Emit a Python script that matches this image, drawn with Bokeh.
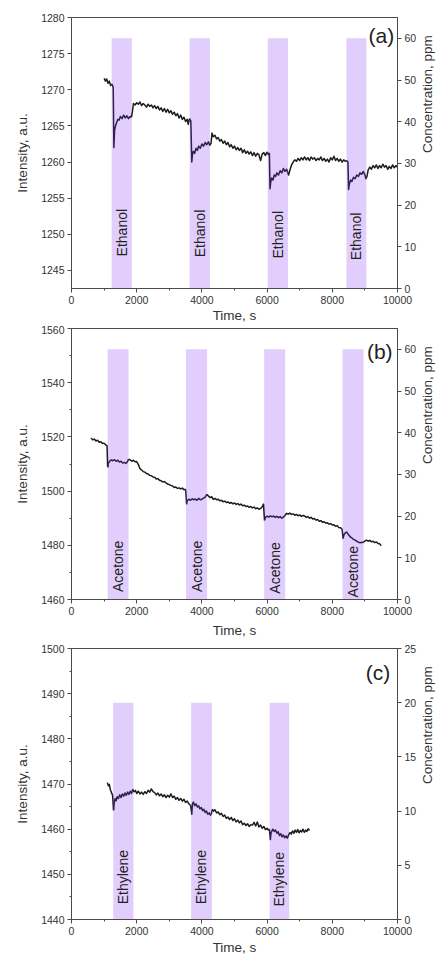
import math
from bokeh.plotting import figure
from bokeh.models import Range1d, LinearAxis, SingleIntervalTicker
from bokeh.layouts import column
from bokeh.embed import file_html
from bokeh.resources import INLINE
from bokeh.core.properties import value

# ---------------- data ----------------
# Panel (a): ethanol
time_a = [1000, 1040, 1080, 1120, 1160, 1200, 1240, 1280,
          1300, 1320, 1350, 1380, 1420, 1460, 1500, 1550, 1600, 1650, 1700, 1750, 1800, 1840,
          1870, 1900, 1950, 2000, 2050, 2100, 2150, 2200, 2250, 2300, 2350, 2400, 2450, 2500, 2550, 2600, 2650, 2700, 2750, 2800,
          2850, 2900, 2950, 3000, 3050, 3100, 3150, 3200, 3250, 3300, 3350, 3400, 3450, 3500, 3550, 3580, 3620, 3660,
          3690, 3710, 3740, 3780, 3820, 3860, 3900, 3950, 4000, 4050, 4100, 4150, 4200, 4240,
          4280, 4310, 4350, 4400, 4450, 4500, 4550, 4600, 4650, 4700, 4750, 4800, 4850, 4900, 4950, 5000, 5050, 5100, 5150, 5200,
          5250, 5300, 5350, 5400, 5450, 5500, 5550, 5600, 5650, 5700, 5750, 5800, 5850, 5900, 5950, 6000, 6040, 6070,
          6090, 6110, 6140, 6180, 6220, 6260, 6300, 6350, 6400, 6450, 6500, 6550, 6600, 6630,
          6660, 6700, 6750, 6800, 6850, 6900, 6950, 7000, 7050, 7100, 7150, 7200, 7250, 7300, 7350, 7400, 7450, 7500, 7550, 7600,
          7650, 7700, 7750, 7800, 7850, 7900, 7950, 8000, 8050, 8100, 8150, 8200, 8250, 8300, 8350, 8400, 8450, 8480,
          8500, 8520, 8560, 8600, 8650, 8700, 8750, 8800, 8850, 8900, 8950, 9000, 9030,
          9060, 9100, 9150, 9200, 9250, 9300, 9350, 9400, 9450, 9500, 9550, 9600, 9650, 9700, 9750, 9800, 9850, 9900, 9950, 10000]
intensity_a = [1271.6, 1271.2, 1271.5, 1270.9, 1271.2, 1270.6, 1270.8, 1270.3,
               1262.0, 1264.3, 1265.0, 1265.4, 1265.9, 1265.8, 1266.3, 1266.0, 1266.5, 1266.1, 1266.4, 1266.0, 1266.3, 1266.2,
               1267.0, 1268.1, 1267.9, 1268.2, 1268.0, 1268.3, 1267.8, 1268.1, 1267.9, 1267.6, 1268.0, 1267.7, 1267.9, 1267.5, 1267.8, 1267.4, 1267.7, 1267.2, 1267.5, 1267.0,
               1267.4, 1266.9, 1267.3, 1266.8, 1267.1, 1266.6, 1266.9, 1266.4, 1266.7, 1266.1, 1266.5, 1265.9, 1266.2, 1265.6, 1265.9, 1265.2, 1266.0, 1265.7,
               1260.0, 1261.0, 1261.5, 1261.2, 1261.9, 1261.6, 1262.2, 1261.9, 1262.5, 1262.2, 1262.7, 1262.4, 1262.8, 1262.3,
               1262.6, 1264.0, 1263.5, 1263.7, 1263.2, 1263.4, 1262.9, 1263.1, 1262.6, 1262.9, 1262.4, 1262.7, 1262.1, 1262.4, 1261.9, 1262.2, 1261.7, 1262.0, 1261.6, 1261.9,
               1261.3, 1261.7, 1261.2, 1261.5, 1261.1, 1261.4, 1260.9, 1261.3, 1260.8, 1261.2, 1261.0, 1260.2, 1261.1, 1261.3, 1260.9, 1261.4, 1261.0, 1261.2,
               1256.3, 1257.2, 1257.8, 1257.5, 1258.2, 1258.0, 1258.5, 1258.2, 1258.8, 1258.5, 1259.1, 1258.7, 1259.0, 1258.6,
               1258.2, 1258.9, 1259.6, 1260.0, 1260.3, 1260.1, 1260.5, 1260.2, 1260.6, 1260.3, 1260.7, 1260.3, 1260.6, 1260.2, 1260.7, 1260.4, 1260.6, 1260.2, 1260.5, 1260.3,
               1260.7, 1260.2, 1260.5, 1260.1, 1260.4, 1260.0, 1260.6, 1260.3, 1260.8, 1260.2, 1260.5, 1260.1, 1260.4, 1260.0, 1260.3, 1260.1, 1260.2, 1260.0,
               1256.2, 1256.9, 1257.5, 1257.3, 1257.9, 1257.7, 1258.2, 1258.0, 1258.5, 1258.3, 1258.7, 1258.2, 1257.7,
               1257.9, 1258.9, 1259.3, 1259.0, 1259.5, 1259.2, 1259.6, 1259.1, 1259.5, 1259.2, 1259.7, 1259.3, 1259.5, 1259.0, 1259.4, 1259.1, 1259.6, 1259.2, 1259.5, 1259.3]
expo_start_a = [1230, 3625, 6020, 8435]
expo_end_a = [1850, 4245, 6640, 9045]
expo_conc_a = [60, 60, 60, 60]
gas_a = ["Ethanol", "Ethanol", "Ethanol", "Ethanol"]

# Panel (b): acetone
time_b = [600, 650, 700, 750, 800, 850, 900, 950, 1000, 1050, 1090,
          1110, 1130, 1170, 1220, 1270, 1320, 1370, 1420, 1470, 1520, 1570, 1620, 1670, 1720, 1750,
          1800, 1850, 1900, 1950, 2000, 2050, 2100, 2150, 2200, 2250, 2300, 2350, 2400, 2450, 2500, 2550, 2600, 2650,
          2700, 2750, 2800, 2850, 2900, 2950, 3000, 3050, 3100, 3150, 3200, 3250, 3300, 3350, 3400, 3450, 3500,
          3530, 3550, 3600, 3650, 3700, 3750, 3800, 3850, 3900, 3950, 4000, 4050, 4100, 4150,
          4200, 4250, 4300, 4350, 4400, 4450, 4500, 4550, 4600, 4650, 4700, 4750, 4800, 4850, 4900, 4950, 5000, 5050,
          5100, 5150, 5200, 5250, 5300, 5350, 5400, 5450, 5500, 5550, 5600, 5650, 5700, 5750, 5800, 5850, 5890,
          5920, 5950, 6000, 6050, 6100, 6150, 6200, 6250, 6300, 6350, 6400, 6450, 6500, 6550,
          6600, 6650, 6700, 6750, 6800, 6850, 6900, 6950, 7000, 7050, 7100, 7150, 7200, 7250, 7300, 7350, 7400, 7450,
          7500, 7550, 7600, 7650, 7700, 7750, 7800, 7850, 7900, 7950, 8000, 8050, 8100, 8150, 8200, 8250, 8300,
          8330, 8360, 8400, 8440, 8480, 8520, 8560, 8600, 8650, 8700, 8750, 8800, 8850, 8900, 8950,
          9000, 9050, 9100, 9150, 9200, 9250, 9300, 9350, 9400, 9450, 9500]
intensity_b = [1519.6, 1518.9, 1519.2, 1518.5, 1518.8, 1518.0, 1518.2, 1517.6, 1517.7, 1517.0, 1516.8,
               1508.8, 1510.2, 1511.0, 1511.5, 1511.2, 1511.6, 1511.0, 1511.4, 1510.7, 1511.0, 1510.4, 1510.6, 1510.2, 1510.9, 1511.8,
               1511.5, 1511.0, 1511.4, 1510.8, 1510.9, 1509.8, 1508.3, 1507.8, 1507.2, 1507.0, 1506.5, 1506.3, 1505.8, 1505.7, 1505.2, 1505.1, 1504.5, 1504.6,
               1504.0, 1503.8, 1503.4, 1503.5, 1503.0, 1502.6, 1502.4, 1502.1, 1501.9, 1501.3, 1501.5, 1501.0, 1501.2, 1500.8, 1501.1, 1500.5, 1500.7,
               1495.3, 1496.5, 1497.0, 1496.6, 1497.2, 1496.8, 1497.1, 1496.6, 1497.3, 1496.8, 1497.0, 1497.4, 1497.8, 1498.8,
               1498.2, 1497.6, 1497.9, 1497.0, 1497.3, 1496.8, 1497.0, 1496.4, 1496.6, 1496.1, 1496.3, 1495.8, 1496.0, 1495.5, 1495.8, 1495.3, 1495.6, 1495.1,
               1495.4, 1494.9, 1495.2, 1494.6, 1494.8, 1494.3, 1494.5, 1494.0, 1494.3, 1493.8, 1494.1, 1493.5, 1493.8, 1493.3, 1493.6, 1494.2, 1495.2,
               1489.2, 1490.3, 1490.8, 1490.4, 1490.9, 1490.5, 1490.8, 1490.3, 1490.7, 1490.2, 1490.6, 1490.0, 1490.4, 1491.0,
               1491.8, 1491.5, 1491.9, 1491.4, 1491.6, 1491.1, 1491.4, 1490.9, 1491.2, 1490.7, 1491.0, 1490.8, 1490.3, 1490.6, 1490.0, 1490.3, 1489.7, 1489.9,
               1489.3, 1489.5, 1488.9, 1489.1, 1488.5, 1488.7, 1488.2, 1488.3, 1487.8, 1488.0, 1487.5, 1487.6, 1487.0, 1487.2, 1486.6, 1486.5, 1486.0,
               1482.6, 1484.0, 1484.6, 1484.9, 1484.2, 1483.6, 1483.0, 1482.7, 1482.2, 1481.9, 1481.5, 1481.2, 1480.9, 1481.1, 1481.0,
               1481.6, 1481.9, 1481.5, 1481.8, 1481.3, 1481.5, 1481.0, 1481.2, 1480.7, 1480.6, 1479.8]
expo_start_b = [1110, 3515, 5910, 8315]
expo_end_b = [1750, 4160, 6555, 8960]
expo_conc_b = [60, 60, 60, 60]
gas_b = ["Acetone", "Acetone", "Acetone", "Acetone"]

# Panel (c): ethylene
time_c = [1100, 1130, 1160, 1190, 1220, 1260,
          1290, 1310, 1340, 1370, 1400, 1440, 1480, 1520, 1560, 1600, 1640, 1680, 1720, 1760, 1800, 1840, 1880,
          1920, 1960, 2000, 2050, 2100, 2150, 2200, 2250, 2300, 2350, 2400, 2450, 2500, 2550, 2600, 2650, 2700, 2750,
          2800, 2850, 2900, 2950, 3000, 3050, 3100, 3150, 3200, 3250, 3300, 3350, 3400, 3450, 3500, 3550, 3600, 3650,
          3690, 3710, 3740, 3780, 3820, 3860, 3900, 3940, 3980, 4020, 4060, 4100, 4140, 4180, 4220, 4260, 4290,
          4320, 4360, 4400, 4450, 4500, 4550, 4600, 4650, 4700, 4750, 4800, 4850, 4900, 4950, 5000, 5050, 5100, 5150,
          5200, 5250, 5300, 5350, 5400, 5450, 5500, 5550, 5600, 5650, 5700, 5750, 5800, 5850, 5900, 5950, 6000, 6040, 6070,
          6100, 6120, 6150, 6180, 6220, 6260, 6300, 6340, 6380, 6420, 6460, 6500, 6540, 6580, 6620, 6660,
          6700, 6740, 6780, 6820, 6860, 6900, 6940, 6980, 7020, 7060, 7100, 7140, 7180, 7220, 7260, 7300]
intensity_c = [1470.3, 1469.6, 1469.9, 1468.8, 1468.2, 1467.5,
               1464.2, 1465.8, 1466.8, 1466.3, 1467.2, 1466.8, 1467.6, 1467.0, 1467.8, 1467.3, 1468.0, 1467.5, 1468.2, 1467.7, 1468.4, 1467.9, 1468.8,
               1468.2, 1468.6, 1467.9, 1468.4, 1467.8, 1468.2, 1467.7, 1468.3, 1467.9, 1468.6, 1468.2, 1468.9, 1468.3, 1468.1, 1467.6, 1468.0, 1467.4, 1467.8,
               1467.2, 1467.6, 1467.0, 1467.5, 1467.1, 1467.8, 1467.0, 1467.3, 1466.6, 1467.0, 1466.4, 1466.8, 1466.2, 1466.6, 1465.9, 1466.2, 1465.6, 1465.3,
               1463.3, 1465.6, 1466.0, 1465.2, 1465.6, 1464.9, 1465.2, 1464.5, 1464.8, 1464.1, 1464.4, 1463.7, 1464.0, 1463.3, 1463.6, 1463.1, 1463.4,
               1464.4, 1464.0, 1464.3, 1463.6, 1463.8, 1463.2, 1463.5, 1462.8, 1463.1, 1462.4, 1462.7, 1462.1, 1462.6, 1461.9, 1462.3, 1461.6, 1462.0, 1461.4,
               1461.8, 1461.0, 1461.3, 1460.8, 1461.2, 1460.6, 1461.0, 1460.9, 1461.5, 1460.7, 1461.6, 1460.5, 1460.9, 1460.2, 1460.6, 1459.9, 1460.2, 1459.8, 1460.0,
               1457.7, 1459.2, 1459.6, 1460.0, 1459.5, 1459.8, 1459.1, 1459.4, 1458.6, 1459.0, 1458.3, 1458.7, 1458.1, 1458.5, 1458.0, 1458.7,
               1459.3, 1458.9, 1459.6, 1459.1, 1459.8, 1459.3, 1459.9, 1459.2, 1459.7, 1459.4, 1460.0, 1459.3, 1459.8, 1459.5, 1460.1, 1459.7]
expo_start_c = [1280, 3670, 6080]
expo_end_c = [1900, 4305, 6680]
expo_conc_c = [20, 20, 20]
gas_c = ["Ethylene", "Ethylene", "Ethylene"]

# ---------------- style ----------------
FONT = "Liberation Sans"
BAR = "#e2cefd"
LINE_OUT = "#1c1c1c"
LINE_IN = "#30204f"
AX = "#4a4a4a"
TXT = "#333333"


def style_axis(ax, minor, label_standoff):
    ax.axis_line_color = AX
    ax.major_tick_line_color = AX
    ax.minor_tick_line_color = AX if minor else None
    ax.major_tick_out = 4
    ax.major_tick_in = 0
    ax.minor_tick_out = 2
    ax.minor_tick_in = 0
    ax.major_label_text_font = FONT
    ax.major_label_text_font_size = "10.5px"
    ax.major_label_text_color = TXT
    ax.major_label_standoff = 3
    ax.axis_label_text_font = FONT
    ax.axis_label_text_font_size = "13.5px"
    ax.axis_label_text_font_style = "normal"
    ax.axis_label_text_color = TXT
    ax.axis_label_standoff = label_standoff


def panel(t, inten, starts, ends, conc, gases, yr, yint, yminor, cr, cint,
          width, height, borders, x_title_standoff, label_y, tag, tag_xy):
    bl, br, bt, bb = borders
    p = figure(width=width, height=height, output_backend="svg", toolbar_location=None,
               x_range=Range1d(0, 10000), y_range=Range1d(*yr),
               min_border_left=bl, min_border_right=br, min_border_top=bt, min_border_bottom=bb)
    p.extra_y_ranges = {"conc": Range1d(*cr)}
    p.xgrid.visible = False
    p.ygrid.visible = False
    p.outline_line_color = AX
    p.outline_line_width = 1
    p.border_fill_color = None
    p.background_fill_color = None

    p.xaxis.ticker = SingleIntervalTicker(interval=2000, num_minor_ticks=2)
    p.xaxis.axis_label = "Time, s"
    style_axis(p.xaxis[0], True, x_title_standoff)
    p.yaxis.ticker = SingleIntervalTicker(interval=yint, num_minor_ticks=2 if yminor else 0)
    p.yaxis.axis_label = "Intensity, a.u."
    style_axis(p.yaxis[0], yminor, 8)

    rax = LinearAxis(y_range_name="conc", axis_label="Concentration, ppm",
                     ticker=SingleIntervalTicker(interval=cint, num_minor_ticks=0))
    style_axis(rax, False, 8)
    rax.axis_label_orientation = math.pi / 2
    p.add_layout(rax, "right")

    # exposure bars
    p.quad(left=starts, right=ends, bottom=[0] * len(starts), top=conc,
           y_range_name="conc", fill_color=BAR, line_color=None)

    # trace, coloured purple inside exposure windows
    def inside(x):
        return any(s <= x <= e for s, e in zip(starts, ends))

    groups = []
    cur_col = None
    for i in range(len(t) - 1):
        col = LINE_IN if inside(0.5 * (t[i] + t[i + 1])) else LINE_OUT
        if col != cur_col:
            groups.append((col, [t[i]], [inten[i]]))
            cur_col = col
        groups[-1][1].append(t[i + 1])
        groups[-1][2].append(inten[i + 1])
    p.multi_line(xs=[g[1] for g in groups], ys=[g[2] for g in groups],
                 line_color=[g[0] for g in groups], line_width=1.5, line_join="round")

    # gas labels
    centers = [0.5 * (s + e) for s, e in zip(starts, ends)]
    p.text(x=centers, y=label_y, text=gases, y_range_name="conc", angle=math.pi / 2,
           text_align="left", text_baseline="middle", text_font=value(FONT),
           text_font_size="14px", text_color="#222222")
    # panel tag
    p.text(x=[tag_xy[0]], y=[tag_xy[1]], text=[tag], y_range_name="conc",
           text_align="right", text_baseline="middle", text_font=value(FONT),
           text_font_size="21px", text_color="#222222")
    return p


pa = panel(time_a, intensity_a, expo_start_a, expo_end_a, expo_conc_a, gas_a,
           (1242.5, 1280), 5, False, (0, 65), 10,
           445, 325, (66, 45, 17, 37), 1, [7.7, 7.5, 7.2, 6.8], "(a)", (9900, 60.8))
pb = panel(time_b, intensity_b, expo_start_b, expo_end_b, expo_conc_b, gas_b,
           (1460, 1560), 20, True, (0, 65), 10,
           445, 319, (66, 42, 3, 45), 5, [1.8, 1.8, 1.4, 0.5], "(b)", (9850, 59.6))
pc = panel(time_c, intensity_c, expo_start_c, expo_end_c, expo_conc_c, gas_c,
           (1440, 1500), 10, True, (0, 25), 5,
           445, 313, (71, 37, 4, 38), 2, [1.4, 1.4, 1.2], "(c)", (9780, 22.8))

layout = column(pa, pb, pc, spacing=0)
open("out.html", "w").write(file_html(layout, INLINE))
